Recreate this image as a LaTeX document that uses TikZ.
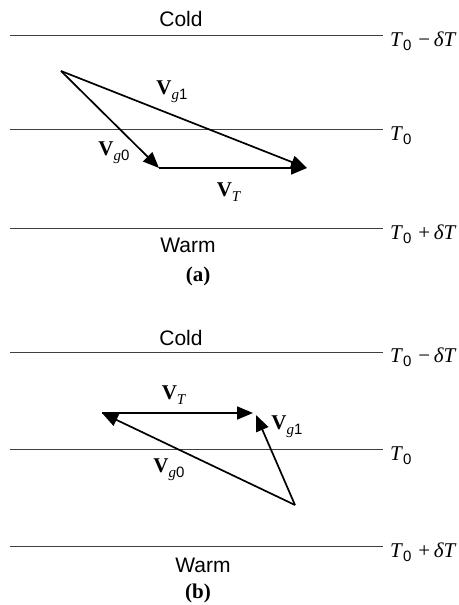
\documentclass[tikz,border=0pt]{standalone}
\usepackage{fontspec}
\setmainfont{Liberation Serif}
\setsansfont{Liberation Sans}
\usetikzlibrary{arrows.meta}
\newcommand\subsz{\fontsize{15}{15}\selectfont}
\newcommand\Tz{\textit{T}\raisebox{-0.5ex}{\subsz\sffamily 0}}
\newcommand\Vv[1]{\textbf{V}\raisebox{-0.5ex}{\subsz #1}}
\begin{document}
\begin{tikzpicture}[x=1pt,y=-1pt,
  level/.style={draw=black!75,line width=1pt},
  vec/.style={draw=black,line width=1.7pt,-{Triangle[length=16pt,width=13pt]}},
  tlab/.style={anchor=base west,inner sep=0pt,font=\fontsize{21}{24}\selectfont},
  zone/.style={font=\sffamily\fontsize{21}{24}\selectfont,inner sep=0pt},
  vlab/.style={font=\fontsize{21}{24}\selectfont,inner sep=0pt},
  captext/.style={font=\bfseries\fontsize{21}{24}\selectfont,inner sep=0pt}]
\useasboundingbox (0,0) rectangle (458,605);
% ---------- panel (a)
\node[zone] (acold) at (181,19) {Cold};
\coordinate (a1l) at (10,35);   \coordinate (a1r) at (383,35);
\coordinate (a2l) at (10,129);  \coordinate (a2r) at (383,129);
\coordinate (a3l) at (10,228);  \coordinate (a3r) at (383,228);
\draw[level] (a1l) -- (a1r);
\draw[level] (a2l) -- (a2r);
\draw[level] (a3l) -- (a3r);
\node[tlab] (at1) at (390,46) {\Tz\,\,−\,\textit{δT}};
\node[tlab] (at2) at (390,140) {\Tz};
\node[tlab] (at3) at (390,239) {\Tz\,\,+\,\textit{δT}};
\node[zone] (awarm) at (188,245) {Warm};
\node[captext] (acap) at (198,276) {(a)};
\coordinate (aO) at (61,71);
\coordinate (aA) at (159,168);
\coordinate (aB) at (307,168);
\draw[vec] (aO) -- (aA);
\draw[vec] (aO) -- (aB);
\draw[vec] (aA) -- (aB);
\node[vlab] (avg1) at (172,92) {\Vv{\textit{g}\textsf{1}}};
\node[vlab] (avg0) at (114,153) {\Vv{\textit{g}\textsf{0}}};
\node[vlab] (avt) at (229,192) {\Vv{\textit{T}}};
% ---------- panel (b)
\node[zone] (bcold) at (181,338) {Cold};
\coordinate (b1l) at (10,352);  \coordinate (b1r) at (383,352);
\coordinate (b2l) at (10,449);  \coordinate (b2r) at (383,449);
\coordinate (b3l) at (10,546);  \coordinate (b3r) at (383,546);
\draw[level] (b1l) -- (b1r);
\draw[level] (b2l) -- (b2r);
\draw[level] (b3l) -- (b3r);
\node[tlab] (bt1) at (390,362) {\Tz\,\,−\,\textit{δT}};
\node[tlab] (bt2) at (390,460) {\Tz};
\node[tlab] (bt3) at (390,557) {\Tz\,\,+\,\textit{δT}};
\node[zone] (bwarm) at (203,565) {Warm};
\node[captext] (bcap) at (198,593) {(b)};
\coordinate (bO) at (295,505);
\coordinate (bA) at (102,413);
\coordinate (bB) at (253,413);
\coordinate (bC) at (256,415);
\draw[vec] (bO) -- (bA);
\draw[vec] (bA) -- (bB);
\draw[vec] (bO) -- (bC);
\node[vlab] (bvt) at (174,395) {\Vv{\textit{T}}};
\node[vlab] (bvg1) at (287,427) {\Vv{\textit{g}\textsf{1}}};
\node[vlab] (bvg0) at (169,470) {\Vv{\textit{g}\textsf{0}}};
\end{tikzpicture}
\end{document}
